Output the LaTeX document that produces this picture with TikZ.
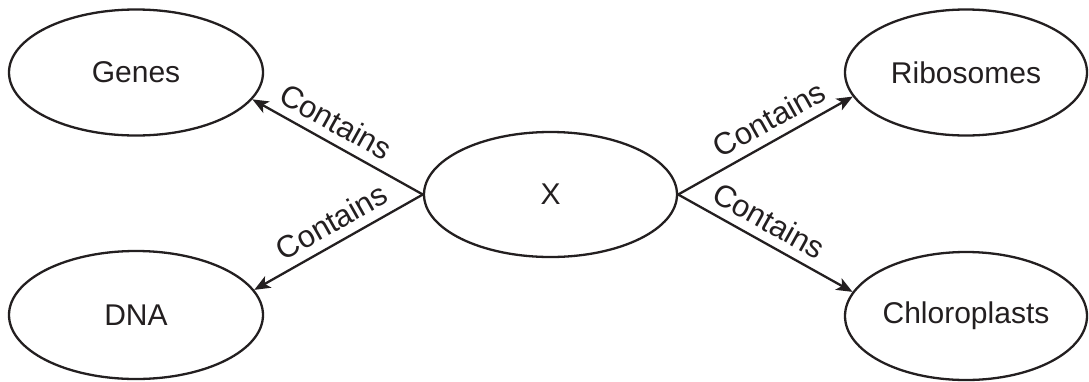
\documentclass[tikz,border=0pt]{standalone}
\usepackage{fontspec}
\setmainfont{Liberation Sans}
\usetikzlibrary{shapes.geometric,arrows.meta}
\definecolor{ink}{HTML}{231F20}
\tikzset{
  blob/.style={draw=ink, line width=2.3pt, ellipse, inner sep=0pt,
    minimum width=254pt, minimum height=126pt, text=ink,
    font=\fontsize{30}{36}\selectfont},
  link/.style={draw=ink, line width=2.3pt,
    -{Stealth[length=16pt,width=13pt,inset=4pt]}},
  lbl/.style={sloped, above=9pt, inner sep=0pt, text=ink,
    font=\fontsize{31}{36}\selectfont}
}
\begin{document}
\begin{tikzpicture}[x=1pt,y=-1pt]
\useasboundingbox (0,0) rectangle (1089,381);
\node[blob] (genes) at (136,72.5) {Genes};
\node[blob, minimum height=128pt] (dna) at (136,315) {DNA};
\node[blob, minimum height=125pt, minimum width=253pt] (x) at (550.5,194.5) {X};
\node[blob, minimum width=242pt] (ribo) at (966,72.5) {Ribosomes};
\node[blob, minimum width=242pt, minimum height=128pt] (chloro) at (966,316) {Chloroplasts};
\draw[link] (x.west) -- node[lbl, pos=0.57] {Contains} (genes.-13);
\draw[link] (x.west) -- node[lbl, pos=0.48] {Contains} (dna.12);
\draw[link] (x.east) -- node[lbl, pos=0.58] {Contains} (ribo.192);
\draw[link] (x.east) -- node[lbl, pos=0.46] {Contains} (chloro.168);
\end{tikzpicture}
\end{document}
